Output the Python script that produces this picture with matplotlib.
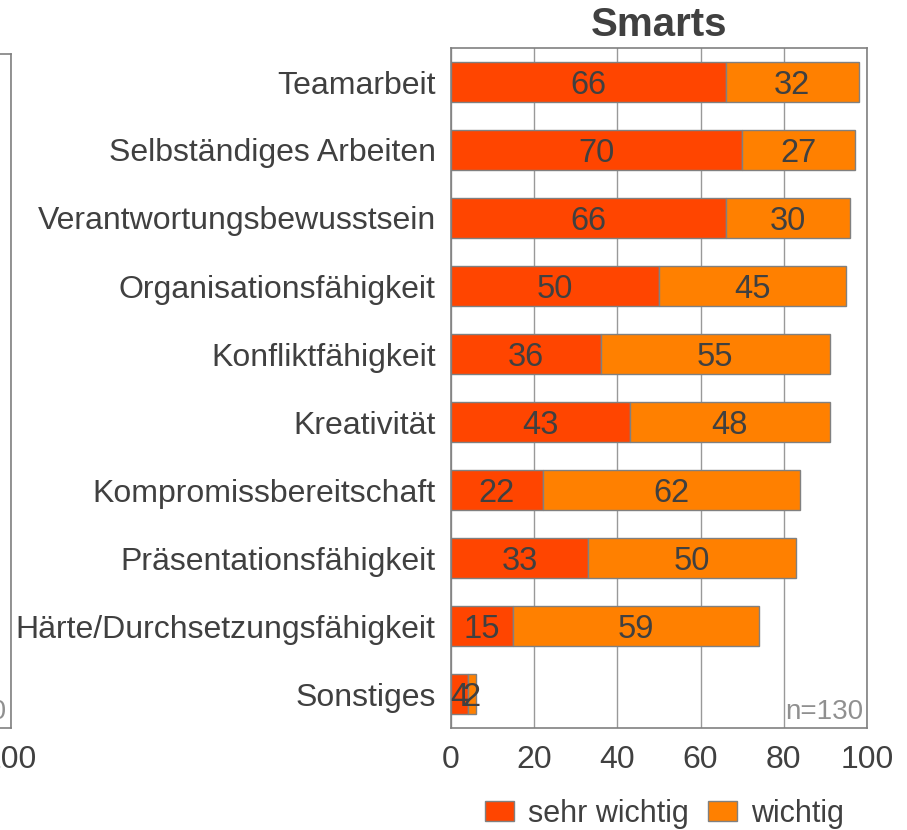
import matplotlib as mpl
from matplotlib import pyplot as plt
from matplotlib.patches import Patch

plt.rcParams['font.family'] = ['Liberation Sans', 'DejaVu Sans']

# data
categories = ['Teamarbeit', 'Selbständiges Arbeiten', 'Verantwortungsbewusstsein',
              'Organisationsfähigkeit', 'Konfliktfähigkeit', 'Kreativität',
              'Kompromissbereitschaft', 'Präsentationsfähigkeit',
              'Härte/Durchsetzungsfähigkeit', 'Sonstiges']
sehr_wichtig = [66, 70, 66, 50, 36, 43, 22, 33, 15, 4]
wichtig = [32, 27, 30, 45, 55, 48, 62, 50, 59, 2]
series_names = ['sehr wichtig', 'wichtig']
xticks = [0, 20, 40, 60, 80, 100]
n_label = 'n=130'
title = 'Smarts'

c_sehr = '#FF4500'
c_wichtig = '#FF8000'
edge = '#808080'
txt = '#404040'
W, H = 907, 830

fig = plt.figure(figsize=(W / 100, H / 100), dpi=100)

def setup(ax):
    ax.set_xlim(0, 100)
    ax.set_ylim(len(categories) - 0.5, -0.5)
    ax.set_xticks(xticks)
    ax.tick_params(axis='both', length=0, labelsize=23, colors=txt)
    ax.tick_params(axis='x', pad=12)
    ax.tick_params(axis='y', pad=11)
    for s in ax.spines.values():
        s.set_color(edge)
        s.set_linewidth(1.2)
    ax.grid(axis='x', color='#999999', linewidth=1)
    ax.set_axisbelow(True)
    ax.text(0.99, 0.005, n_label, transform=ax.transAxes, ha='right', va='bottom',
            fontsize=20, color='#909090')

# partial neighbour panel cut off at the left edge
axl = fig.add_axes([(10.5 - 416) / W, (H - 728) / H, 416 / W, 674 / H])
setup(axl)
axl.set_yticks([])

ax = fig.add_axes([451 / W, (H - 728) / H, 416 / W, 680 / H])
setup(ax)
y = list(range(len(categories)))
ax.barh(y, sehr_wichtig, height=0.6, color=c_sehr, edgecolor=edge, linewidth=1)
ax.barh(y, wichtig, left=sehr_wichtig, height=0.6, color=c_wichtig,
        edgecolor=edge, linewidth=1)
for i in y:
    a, b = sehr_wichtig[i], wichtig[i]
    ax.text(a / 2, i, str(a), ha='center', va='center_baseline', fontsize=23.5, color=txt)
    ax.text(a + b / 2, i, str(b), ha='center', va='center_baseline', fontsize=23.5, color=txt)
ax.set_yticks(y)
ax.set_yticklabels(categories)
ax.set_title(title, fontsize=29, fontweight='bold', color=txt, pad=9)

handles = [Patch(facecolor=c_sehr, edgecolor=edge), Patch(facecolor=c_wichtig, edgecolor=edge)]
fig.legend(handles, series_names, loc='center right', bbox_to_anchor=(859 / W, 1 - 814 / H),
           frameon=False, ncol=2, fontsize=22, labelcolor=txt, borderpad=0,
           handlelength=0.95, handleheight=0.62, handletextpad=0.46, columnspacing=0.62)

fig.savefig('out.png', dpi=100)
